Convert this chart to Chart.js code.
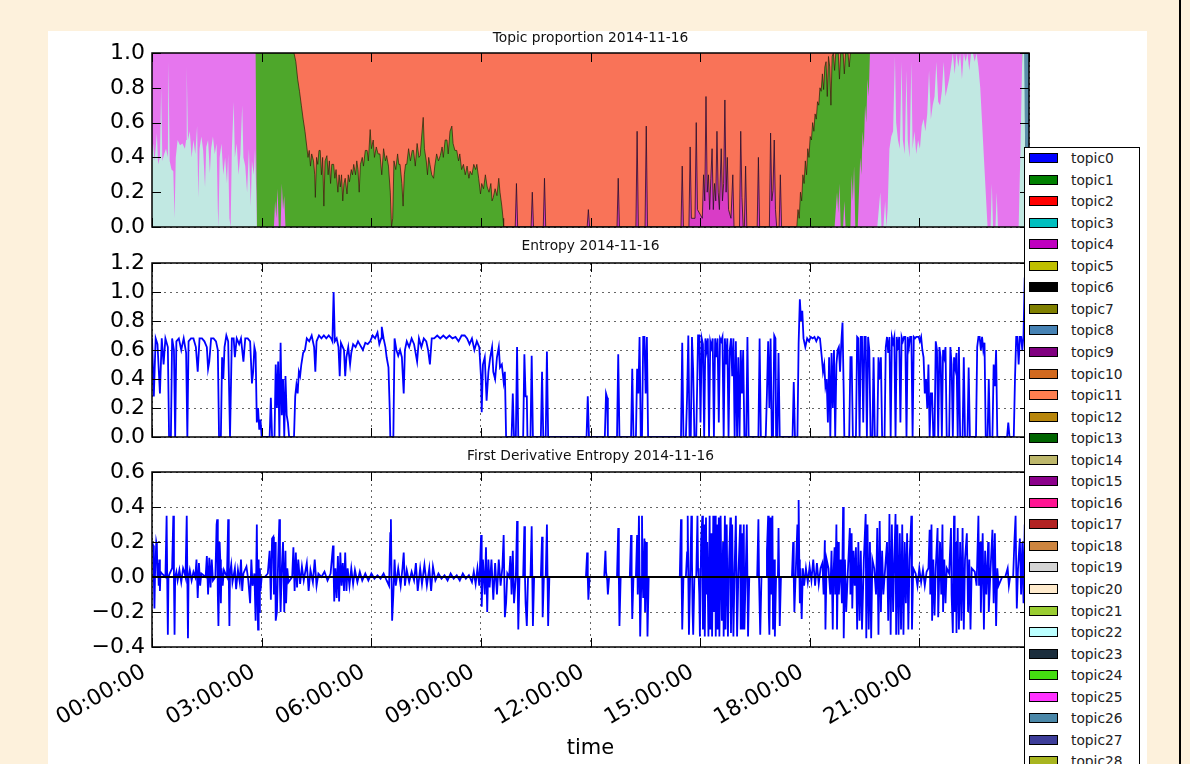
<!DOCTYPE html>
<html><head><meta charset="utf-8">
<script src="https://cdn.jsdelivr.net/npm/chart.js@4.4.1/dist/chart.umd.min.js"></script>
<style>
html,body{margin:0;padding:0;width:1190px;height:764px;overflow:hidden;background:#FDF1DC;font-family:"DejaVu Sans",sans-serif;}
#fig{position:absolute;left:48px;top:31px;width:1099px;height:733px;background:#fff;}
#rule{position:absolute;left:1179px;top:0;width:2px;height:764px;background:#000;}
canvas{position:absolute;left:0;}
#legend{position:absolute;left:1024px;top:147px;width:114px;height:660px;border:1.5px solid #000;background:#fff;z-index:5;}
.sw{position:absolute;left:4px;width:27px;height:8px;border:1px solid #000;}
.lb{position:absolute;left:46px;font-size:13.8px;color:#222;line-height:16px;white-space:nowrap;}
</style></head>
<body>
<div id="fig"></div>
<div id="rule"></div>
<canvas id="c1" width="1190" height="240" style="top:0px;width:1190px;height:240px"></canvas>
<canvas id="c2" width="1190" height="220" style="top:230px;width:1190px;height:220px"></canvas>
<canvas id="c3" width="1190" height="324" style="top:440px;width:1190px;height:324px"></canvas>
<div id="legend"></div>
<script>
// ---------- DATA (time in minutes after 00:00) ----------
const timeTickLabels = ['00:00:00','03:00:00','06:00:00','09:00:00','12:00:00','15:00:00','18:00:00','21:00:00'];
const chartTitles = ['Topic proportion 2014-11-16', 'Entropy 2014-11-16', 'First Derivative Entropy 2014-11-16'];
const topicNames = ['topic0','topic1','topic2','topic3','topic4','topic5','topic6','topic7','topic8','topic9','topic10','topic11','topic12','topic13','topic14','topic15','topic16','topic17','topic18','topic19','topic20','topic21','topic22','topic23','topic24','topic25','topic26','topic27','topic28'];
const topicColors = ['#0000FF','#008000','#FF0000','#00BFBF','#BF00BF','#BFBF00','#000000','#808000','#4682B4','#800080','#D2691E','#FF7F50','#B8860B','#006400','#BDB76B','#8B008B','#FF1493','#B22222','#CD853F','#D3D3D3','#FFEBCD','#9ACD32','#BBFFFF','#1B2D3C','#44DD11','#FF33FF','#4A87A8','#3D3D99','#A8B520'];

// visible top boundary of each stacked topic layer [minute, proportion]
const cyanTop = [[0,0.42],[2,0.48],[4,0.38],[6,0.45],[8,0.54],[10,0.36],[13,0.4],[15,0.8],[17,0.38],[20,0.42],[23,0.45],[26,0.4],[27,0.95],[29,0.38],[32,0.33],[35,0.32],[37,0.05],[39,0.4],[42,0.5],[46,0.47],[50,0.48],[54,0.45],[56,0.5],[57,0.92],[59,0.5],[62,0.55],[65,0.4],[68,0.5],[71,0.42],[74,0.58],[76,0.17],[78,0.45],[81,0.52],[84,0.44],[87,0.23],[89,0.46],[92,0.5],[95,0.31],[97,0.45],[100,0.52],[103,0.42],[106,0.48],[108,0.1],[109,0],[111,0.4],[114,0.48],[117,0.3],[120,0.4],[123,0.25],[125,0.42],[127,0.05],[129,0],[131,0.44],[134,0.72],[136,0.4],[139,0.48],[142,0.3],[145,0.42],[148,0.7],[150,0.4],[153,0.35],[156,0.2],[159,0.45],[162,0.12],[164,0.38],[167,0.3],[169,0.45],[171,0.2],[172,0],[1190,0],[1195,0.2],[1197,0],[1200,0],[1203,0.15],[1205,0],[1207,0.1],[1210,0.45],[1213,0.52],[1216,0.55],[1219,0.98],[1221,0.6],[1224,0.5],[1227,0.45],[1230,0.95],[1232,0.5],[1235,0.42],[1238,0.9],[1240,0.5],[1243,0.4],[1246,0.95],[1248,0.45],[1251,0.55],[1254,0.42],[1257,0.5],[1260,0.45],[1263,0.58],[1266,0.62],[1269,0.55],[1272,0.65],[1275,0.9],[1278,0.62],[1281,0.7],[1284,0.75],[1287,0.95],[1290,0.72],[1293,0.7],[1296,0.78],[1299,0.95],[1302,0.75],[1305,0.8],[1308,0.85],[1311,0.92],[1314,1.0],[1317,0.88],[1320,1.0],[1323,0.92],[1326,1.0],[1329,0.85],[1332,1.0],[1335,0.95],[1338,1.0],[1341,0.9],[1344,1.0],[1347,1.0],[1350,0.95],[1353,1.0],[1356,0.92],[1359,0.8],[1362,0.6],[1365,0.4],[1368,0.2],[1371,0],[1376,0],[1378,0.25],[1380,0],[1384,0],[1386,0.2],[1388,0],[1422,0],[1425,0.45],[1428,1.0],[1431,1.0],[1433,0.35],[1439,0.35]];
const violetTop = [[0,1],[170,1],[172,0],[200,0],[202,0.15],[204,0.05],[206,0.22],[208,0],[211,0],[213,0.25],[215,0.1],[217,0.18],[219,0],[1120,0],[1124,0.2],[1126,0.08],[1128,0.25],[1130,0],[1134,0],[1136,0.15],[1138,0],[1146,0],[1148,0.3],[1150,0.15],[1152,0.35],[1154,0],[1158,0],[1160,0.2],[1162,0.4],[1164,0.3],[1166,0.55],[1168,0.45],[1170,0.7],[1172,0.6],[1174,0.85],[1176,0.75],[1178,1],[1428,1],[1433,0.35],[1439,0.35]];
const greenTop = [[0,1],[233,1],[236,0.95],[239,0.85],[242,0.78],[245,0.7],[248,0.62],[251,0.55],[254,0.46],[256,0.4],[258,0.44],[260,0.35],[262,0.42],[265,0.38],[267,0.3],[268,0.17],[270,0.4],[272,0.36],[274,0.44],[276,0.44],[278,0.3],[280,0.4],[282,0.12],[284,0.38],[287,0.41],[289,0.3],[291,0.38],[293,0.25],[295,0.36],[298,0.36],[300,0.28],[302,0.33],[305,0.2],[307,0.3],[309,0.23],[311,0.3],[313,0.15],[315,0.25],[317,0.28],[320,0.19],[322,0.3],[324,0.26],[327,0.33],[329,0.3],[331,0.36],[334,0.3],[336,0.38],[338,0.33],[340,0.2],[342,0.36],[345,0.4],[347,0.35],[350,0.44],[353,0.44],[355,0.38],[358,0.56],[360,0.45],[363,0.5],[365,0.4],[368,0.46],[371,0.42],[374,0.42],[377,0.3],[380,0.45],[383,0.38],[385,0.41],[388,0.35],[391,0.2],[393,0],[395,0.05],[397,0.38],[400,0.33],[403,0.42],[405,0.36],[407,0.36],[410,0.25],[412,0.12],[414,0.3],[416,0.36],[418,0.36],[421,0.45],[424,0.38],[427,0.44],[429,0.44],[432,0.35],[435,0.48],[438,0.4],[440,0.41],[442,0.5],[445,0.63],[447,0.45],[450,0.38],[452,0.3],[454,0.4],[456,0.36],[459,0.3],[462,0.28],[464,0.35],[467,0.42],[470,0.38],[473,0.41],[476,0.46],[478,0.4],[481,0.5],[484,0.5],[486,0.42],[489,0.55],[492,0.58],[494,0.48],[497,0.44],[500,0.44],[503,0.38],[505,0.42],[508,0.33],[511,0.36],[514,0.3],[517,0.35],[520,0.28],[522,0.32],[525,0.3],[528,0.36],[531,0.33],[533,0.36],[536,0.28],[539,0.19],[541,0.25],[544,0.22],[547,0.3],[550,0.23],[553,0.2],[556,0.25],[558,0.15],[560,0.17],[563,0.22],[566,0.18],[569,0.28],[571,0.2],[574,0.12],[576,0.05],[577,0],[1058,0],[1060,0.1],[1062,0.05],[1064,0.2],[1066,0.15],[1068,0.3],[1070,0.25],[1072,0.38],[1074,0.3],[1076,0.45],[1078,0.4],[1080,0.52],[1082,0.5],[1084,0.6],[1086,0.55],[1088,0.65],[1090,0.62],[1092,0.72],[1094,0.7],[1096,0.8],[1098,0.78],[1100,0.88],[1102,0.79],[1104,0.92],[1106,0.95],[1108,0.75],[1110,0.98],[1112,0.92],[1114,0.7],[1116,0.98],[1118,1],[1120,0.9],[1122,1],[1126,1],[1128,0.85],[1130,1],[1134,1],[1136,0.88],[1138,1],[1142,1],[1144,0.92],[1146,1],[1428,1],[1433,0.35],[1439,0.35]];
const magentaTop = [[0,0],[596,0],[598,0.25],[600,0],[622,0],[624,0.2],[626,0],[642,0],[644,0.28],[646,0],[714,0],[716,0.1],[718,0],[763,0],[765,0.28],[767,0],[794,0],[796,0.55],[798,0],[809,0],[811,0.58],[813,0],[868,0],[870,0.35],[872,0],[881,0],[883,0.46],[885,0.05],[891,0.05],[893,0.6],[895,0.1],[903,0.05],[905,0.3],[907,0.15],[909,0.75],[911,0.2],[913,0.3],[915,0.1],[917,0.28],[919,0.45],[921,0.1],[923,0.25],[925,0.15],[927,0.55],[929,0.2],[931,0.1],[934,0.45],[936,0.15],[938,0.25],[940,0.73],[942,0.2],[944,0.4],[946,0.1],[950,0.05],[953,0.3],[955,0],[964,0],[966,0.55],[968,0.17],[970,0],[972,0],[974,0.35],[976,0],[993,0],[995,0.4],[997,0],[1013,0],[1015,0.54],[1017,0.15],[1019,0.21],[1021,0.5],[1023,0.1],[1025,0],[1029,0],[1031,0.3],[1033,0],[1439,0]];
const salmonTop = [[0,1],[1428,1],[1433,0.35],[1439,0.35]];
const steelTop = [[0,1],[1439,1]];

const entropySeries = [[0,0.68],[3,0.28],[6,0.68],[9,0.64],[13,0.30],[16,0.68],[19,0.5],[22,0.68],[26,0.62],[28,0],[31,0],[33,0.68],[36,0.6],[38,0],[40,0.66],[44,0.68],[48,0.6],[52,0.68],[56,0.58],[58,0],[60,0.66],[64,0.68],[68,0.68],[72,0.62],[75,0.45],[78,0.68],[82,0.68],[86,0.66],[90,0.62],[92,0.47],[94,0.52],[97,0.68],[101,0.68],[105,0.66],[108,0.6],[110,0],[113,0],[115,0.55],[117,0.4],[119,0.62],[122,0.7],[125,0.66],[128,0],[131,0.68],[134,0.68],[136,0.55],[139,0.68],[143,0.64],[146,0.68],[150,0.52],[153,0.68],[157,0.68],[161,0.66],[164,0.37],[166,0.45],[168,0.62],[170,0.58],[172,0.1],[174,0.2],[176,0.05],[178,0.12],[180,0],[193,0],[195,0.27],[197,0],[201,0],[203,0.5],[205,0.2],[207,0.52],[209,0],[211,0.65],[213,0.15],[215,0.4],[217,0],[219,0.42],[221,0.15],[223,0.1],[225,0],[233,0],[235,0.28],[237,0.36],[239,0.3],[241,0.45],[243,0.42],[245,0.5],[248,0.58],[251,0.6],[254,0.68],[258,0.66],[262,0.7],[266,0.62],[268,0.45],[270,0.66],[274,0.7],[278,0.68],[282,0.7],[286,0.68],[290,0.7],[294,0.68],[296,0.66],[298,1.0],[300,0.66],[303,0.68],[306,0.62],[308,0.42],[310,0.65],[313,0.62],[315,0.6],[317,0.42],[319,0.55],[322,0.62],[325,0.5],[327,0.58],[330,0.64],[334,0.62],[338,0.66],[342,0.63],[346,0.6],[350,0.65],[354,0.64],[358,0.66],[362,0.7],[366,0.68],[370,0.72],[373,0.64],[376,0.68],[377,0.76],[380,0.68],[383,0.62],[385,0.55],[388,0.48],[390,0.2],[391,0],[396,0],[398,0.68],[401,0.6],[404,0.56],[407,0.6],[410,0.55],[413,0.3],[415,0.6],[418,0.66],[422,0.62],[426,0.68],[430,0.64],[435,0.52],[438,0.68],[442,0.62],[446,0.68],[450,0.66],[453,0.6],[456,0.5],[459,0.68],[463,0.68],[468,0.7],[473,0.68],[478,0.7],[483,0.68],[488,0.7],[493,0.68],[498,0.69],[503,0.66],[508,0.7],[513,0.7],[517,0.68],[521,0.64],[525,0.68],[529,0.6],[533,0.66],[537,0.62],[540,0.4],[541,0.17],[543,0.5],[546,0.55],[549,0.25],[552,0.45],[555,0.55],[558,0.62],[560,0.45],[563,0.4],[566,0.55],[569,0.62],[571,0.48],[574,0.5],[577,0.38],[579,0.45],[581,0],[590,0],[592,0.3],[594,0],[597,0],[599,0.62],[601,0],[609,0],[611,0.57],[613,0.28],[615,0.28],[616,0],[621,0],[623,0.56],[625,0],[638,0],[640,0.45],[642,0],[646,0],[648,0.59],[650,0],[713,0],[715,0.28],[717,0],[743,0],[745,0.3],[747,0.27],[748,0],[763,0],[765,0.57],[767,0],[786,0],[788,0.47],[790,0],[794,0],[796,0.47],[798,0.3],[800,0.69],[802,0],[804,0],[806,0.69],[808,0.69],[810,0.3],[812,0.69],[814,0],[868,0],[870,0.65],[872,0],[876,0],[878,0.28],[880,0.7],[882,0],[884,0],[886,0.69],[888,0.45],[890,0],[893,0],[896,0.7],[898,0.7],[900,0.1],[902,0.68],[904,0.64],[906,0],[908,0.68],[910,0.6],[912,0.68],[914,0],[916,0.66],[918,0.62],[920,0.68],[922,0],[924,0.68],[926,0.55],[928,0.68],[930,0.1],[932,0.68],[934,0.66],[936,0.69],[938,0],[940,0.68],[942,0.5],[944,0.68],[946,0],[948,0.6],[950,0.68],[952,0.42],[954,0.68],[956,0],[958,0.66],[960,0],[962,0.55],[964,0],[966,0.6],[968,0.3],[970,0.6],[972,0],[975,0],[977,0.69],[979,0],[995,0],[997,0.68],[999,0],[1007,0],[1009,0.3],[1011,0.66],[1013,0.2],[1015,0.68],[1017,0],[1019,0],[1021,0.7],[1023,0.68],[1024,0],[1026,0],[1028,0.58],[1030,0],[1051,0],[1053,0.38],[1055,0],[1059,0],[1061,0.65],[1063,0.95],[1065,0.8],[1067,0.87],[1069,0.68],[1072,0.62],[1075,0.68],[1078,0.66],[1081,0.69],[1084,0.68],[1087,0.69],[1090,0.66],[1093,0.69],[1096,0.68],[1099,0.55],[1101,0.45],[1103,0.5],[1105,0.35],[1107,0.4],[1109,0.1],[1111,0.55],[1113,0],[1115,0.58],[1117,0.2],[1119,0.6],[1121,0],[1123,0.5],[1125,0.6],[1127,0.62],[1129,0.45],[1131,0.65],[1133,0.79],[1135,0.3],[1136,0],[1144,0],[1146,0.55],[1148,0.55],[1150,0],[1155,0],[1157,0.69],[1159,0.68],[1161,0],[1163,0.69],[1165,0.69],[1167,0.1],[1169,0.69],[1171,0.69],[1173,0],[1175,0.69],[1177,0.6],[1179,0],[1182,0],[1184,0.55],[1186,0],[1190,0],[1192,0.55],[1194,0.4],[1196,0.55],[1198,0],[1202,0],[1204,0.62],[1206,0.69],[1208,0.58],[1210,0.69],[1212,0],[1214,0.69],[1216,0.65],[1218,0.69],[1220,0],[1222,0.69],[1224,0.6],[1226,0.69],[1228,0.1],[1230,0.69],[1232,0.66],[1234,0.69],[1236,0.69],[1238,0],[1240,0.69],[1242,0.62],[1244,0.69],[1246,0.69],[1248,0],[1250,0.69],[1252,0.68],[1254,0.69],[1256,0.69],[1258,0.69],[1260,0.66],[1262,0.69],[1264,0.6],[1266,0.55],[1268,0.3],[1270,0.4],[1272,0.2],[1274,0.5],[1276,0],[1278,0.3],[1280,0.3],[1282,0],[1284,0],[1286,0.66],[1288,0.6],[1290,0],[1292,0.62],[1294,0.55],[1296,0],[1298,0.6],[1300,0.55],[1302,0.62],[1304,0],[1308,0],[1310,0.62],[1312,0.5],[1314,0],[1316,0.55],[1318,0.48],[1320,0.58],[1322,0],[1324,0.62],[1326,0],[1330,0],[1332,0.55],[1334,0],[1338,0],[1340,0.48],[1342,0],[1352,0],[1354,0.62],[1356,0.69],[1358,0.69],[1360,0.6],[1362,0.69],[1364,0.6],[1366,0.65],[1368,0],[1371,0],[1373,0.4],[1375,0],[1379,0],[1381,0.5],[1383,0.35],[1385,0.6],[1387,0],[1403,0],[1405,0.1],[1407,0],[1414,0],[1416,0.4],[1418,0.69],[1420,0.69],[1422,0.5],[1424,0.69],[1426,0.69],[1428,0.6],[1430,0.7],[1432,1.1],[1434,0.6],[1436,0.65],[1439,0.66]];

const derivativeSeries = [[0,0.2],[2,0.18],[3,0],[4,-0.18],[5,0.02],[7,0.2],[8,0.18],[9,0],[10,0.08],[11,-0.05],[12,0.1],[13,-0.08],[14,0.03],[16,0.02],[22,0],[24,0.35],[25,-0.02],[26,-0.33],[27,0],[29,0.02],[33,0.05],[35,0.35],[36,0],[37,-0.33],[38,0],[40,0.03],[42,-0.02],[45,0.04],[48,-0.03],[51,0.05],[53,0.03],[55,0],[57,0.35],[58,0],[59,-0.35],[60,0],[62,0.04],[65,-0.02],[68,0.03],[71,0],[73,0.1],[75,-0.12],[77,0.08],[79,-0.05],[81,0.02],[88,0],[90,0.12],[92,-0.1],[94,0.11],[96,-0.06],[98,0.1],[100,-0.02],[104,0],[106,0.3],[107,0.33],[108,-0.1],[109,-0.28],[111,0.2],[112,0.1],[113,-0.15],[114,0.05],[116,-0.05],[118,0.04],[123,0],[125,0.33],[126,0],[127,-0.28],[128,0.02],[130,0.07],[132,-0.03],[136,0.05],[138,-0.07],[141,0.04],[144,-0.03],[146,0.1],[148,-0.08],[150,0.02],[155,0.06],[158,-0.02],[161,-0.15],[163,0.1],[165,-0.05],[168,0.02],[170,-0.25],[172,0.3],[173,-0.1],[174,-0.3],[175,0.1],[176,-0.2],[177,0.05],[178,-0.08],[180,0],[185,0],[190,0.02],[193,0.15],[195,-0.13],[197,0.22],[199,0.23],[200,-0.1],[202,0.2],[203,-0.25],[205,-0.2],[207,0.1],[209,0.33],[210,-0.05],[211,-0.2],[213,0.05],[215,0.2],[217,-0.2],[219,0.15],[220,-0.15],[222,0.05],[224,-0.03],[230,0],[232,0.17],[234,-0.08],[236,0.14],[238,-0.06],[240,0.1],[243,-0.04],[246,0.06],[249,-0.02],[254,0.08],[257,-0.08],[260,0.04],[264,-0.03],[267,0.1],[270,-0.05],[273,0.02],[278,0],[283,0.03],[288,-0.02],[293,0.02],[297,0.18],[298,0.03],[299,-0.14],[301,0.05],[303,-0.12],[305,0.12],[307,-0.14],[309,0.14],[311,-0.05],[313,0.08],[315,-0.08],[317,0.14],[319,-0.08],[321,0.05],[324,-0.05],[327,0.05],[330,-0.04],[333,0.04],[337,-0.03],[341,0.03],[345,-0.02],[350,0.02],[355,-0.02],[360,0.02],[365,-0.01],[370,0.01],[375,-0.01],[380,0.02],[385,-0.02],[389,-0.05],[391,0.25],[392,0.33],[393,0],[394,-0.25],[396,-0.1],[398,0.1],[400,-0.05],[404,0.05],[408,-0.05],[411,0.05],[413,0.14],[415,-0.05],[418,0.04],[422,-0.03],[426,0.03],[430,-0.02],[433,0.08],[436,-0.08],[440,0.05],[443,-0.04],[447,0.07],[451,-0.05],[455,0.05],[458,-0.08],[461,0.06],[465,-0.02],[470,0.02],[475,-0.01],[480,0.01],[485,-0.02],[490,0.02],[495,-0.01],[500,0.01],[505,-0.02],[510,0.02],[515,-0.01],[520,0.01],[525,-0.03],[528,0.03],[531,-0.04],[534,0.05],[537,-0.05],[540,0.24],[541,-0.17],[543,0.1],[546,-0.1],[548,0.17],[550,-0.2],[552,0.1],[554,-0.06],[557,0.1],[560,-0.13],[563,0.08],[566,-0.1],[569,0.1],[572,-0.05],[575,0.06],[577,0.24],[579,-0.23],[581,-0.15],[583,0.02],[586,0],[588,0.12],[590,-0.1],[592,0.15],[594,-0.15],[597,0],[599,0.32],[600,0],[601,-0.3],[603,0],[609,0],[611,0.29],[612,0],[613,-0.15],[615,-0.28],[617,0],[621,0],[623,0.29],[624,0],[625,-0.28],[627,0],[638,0],[640,0.23],[641,-0.23],[643,0],[646,0],[648,0.3],[649,0],[650,-0.28],[652,0],[712,0],[714,0.14],[715,0],[716,-0.13],[718,0],[742,0],[744,0.15],[745,0.03],[747,-0.02],[748,-0.1],[750,0],[763,0],[765,0.28],[766,0],[767,-0.28],[769,0],[784,0],[786,0.24],[787,0],[788,-0.24],[790,0],[794,0],[796,0.24],[797,-0.1],[799,0.35],[800,0],[801,-0.34],[803,0],[804,0.35],[805,0],[806,-0.12],[808,0.22],[809,-0.2],[811,0.2],[812,0],[813,-0.34],[815,0],[866,0],[868,0.33],[869,0],[870,-0.3],[872,0],[876,0],[878,0.14],[879,0.35],[880,0],[881,-0.33],[883,0],[885,0.35],[886,0.1],[887,-0.2],[888,-0.33],[890,0],[893,0],[895,0.35],[896,0.05],[897,0],[898,-0.1],[899,-0.34],[901,0.2],[903,0.35],[904,-0.3],[906,0.3],[907,-0.34],[909,0.34],[910,-0.1],[911,0.2],[913,-0.34],[915,0.35],[916,-0.3],[918,0.25],[919,-0.34],[921,0.35],[922,-0.2],[924,0.35],[925,-0.34],[927,0.3],[928,-0.3],[930,0.34],[931,-0.34],[933,0.35],[935,-0.25],[937,0.2],[938,-0.34],[940,0.35],[941,-0.3],[943,0.3],[945,-0.34],[947,0.1],[949,0.34],[950,-0.32],[952,0.3],[954,-0.34],[956,0.05],[958,0.35],[960,-0.34],[962,0],[965,0.3],[966,-0.3],[968,0.25],[969,-0.3],[971,0.3],[972,-0.3],[974,0],[976,0.3],[978,-0.34],[980,0],[993,0],[995,0.33],[996,0],[998,-0.33],[1000,0],[1008,0],[1009,0.15],[1011,0.35],[1012,-0.2],[1013,-0.33],[1015,0.34],[1016,-0.1],[1018,0.35],[1019,-0.3],[1021,0.1],[1022,-0.34],[1024,0],[1027,0],[1028,0.28],[1029,0],[1030,-0.28],[1032,0],[1050,0],[1052,0.2],[1053,0],[1054,-0.2],[1056,0],[1059,0.3],[1060,0],[1061,0.44],[1062,0.1],[1063,-0.15],[1064,0.05],[1066,-0.24],[1068,0.05],[1070,-0.05],[1073,0.05],[1076,-0.03],[1079,0.06],[1082,-0.02],[1085,0.1],[1088,-0.05],[1091,0.08],[1094,-0.04],[1097,0.05],[1100,0.08],[1102,-0.1],[1104,0.21],[1105,-0.3],[1107,0.1],[1110,0.05],[1113,-0.1],[1115,0.15],[1117,-0.3],[1118,0],[1120,0.17],[1121,-0.1],[1123,0.3],[1124,-0.3],[1126,0.2],[1127,-0.1],[1130,0.1],[1132,-0.15],[1134,0.4],[1135,-0.35],[1137,0.1],[1139,-0.2],[1142,0.05],[1145,0.28],[1146,-0.1],[1148,0.25],[1149,-0.18],[1151,0.15],[1153,-0.05],[1155,0.17],[1157,-0.3],[1159,0.2],[1161,-0.25],[1163,0.15],[1165,-0.3],[1168,0.1],[1171,0.36],[1172,-0.35],[1174,0.3],[1176,-0.3],[1178,0.2],[1180,-0.35],[1182,0.1],[1185,0.05],[1188,-0.1],[1190,0.28],[1192,-0.33],[1194,0.32],[1196,-0.2],[1198,0.15],[1200,-0.1],[1203,0.05],[1206,0.2],[1208,-0.25],[1210,0.36],[1212,-0.33],[1214,0.3],[1216,-0.2],[1218,0.1],[1220,0.36],[1221,-0.33],[1223,0.3],[1225,-0.33],[1227,0.25],[1229,-0.3],[1231,0.3],[1233,-0.33],[1235,0.2],[1237,-0.15],[1239,0.25],[1241,-0.3],[1243,0.1],[1246,0.35],[1247,-0.3],[1249,0.05],[1253,0.02],[1256,-0.05],[1259,0.05],[1262,-0.03],[1265,0.04],[1268,-0.05],[1271,0.03],[1274,0.05],[1276,0.27],[1277,-0.1],[1279,0.3],[1280,-0.25],[1282,0.1],[1284,-0.22],[1286,0.05],[1289,0.28],[1290,-0.23],[1293,0.2],[1295,-0.1],[1297,0.3],[1298,-0.2],[1300,0.1],[1302,-0.15],[1304,0.05],[1308,0.02],[1311,0.28],[1312,-0.1],[1314,-0.32],[1316,0.35],[1317,-0.2],[1319,0.2],[1320,-0.32],[1322,0.28],[1324,-0.3],[1326,0.2],[1328,-0.25],[1330,0.28],[1332,-0.3],[1334,0.1],[1337,0.25],[1339,-0.2],[1341,0.1],[1343,-0.3],[1345,0.05],[1350,0.03],[1353,-0.05],[1356,0.35],[1357,-0.05],[1359,0.2],[1360,-0.2],[1363,0.25],[1365,-0.3],[1367,0.15],[1369,-0.1],[1372,0.2],[1373,-0.2],[1376,0.05],[1379,0.27],[1381,-0.15],[1383,0.25],[1385,-0.28],[1387,0.05],[1389,-0.05],[1395,0],[1400,0],[1404,0.05],[1406,-0.05],[1408,0],[1413,0],[1415,0.2],[1417,0.35],[1418,0.05],[1419,-0.18],[1421,0.05],[1424,0.22],[1426,-0.1],[1428,0.2],[1430,-0.15],[1432,0.3],[1434,-0.2],[1436,-0.33],[1438,0.1],[1439,0]];
const derivativeBaseline = [[0,0],[1439,0]];

// ---------- CHARTS ----------
Chart.defaults.font.family = '"DejaVu Sans", sans-serif';
Chart.defaults.color = '#000';
const pts = arr => arr.map(p => ({x: p[0], y: p[1]}));
const fmtTime = v => timeTickLabels[Math.round(v / 180)] || '';
const fmtNum = v => (v < -1e-9 ? '\u2212' : '') + Math.abs(v).toFixed(1);

// frame, inward ticks and a title centred on the plot area
const framePlugin = {
  id: 'frame',
  afterDraw(chart, args, opts) {
    const {ctx, chartArea: a, scales: {x, y}} = chart;
    const L = 9;
    ctx.save();
    ctx.strokeStyle = '#000';
    ctx.lineWidth = 1;
    ctx.beginPath();
    x.ticks.forEach(t => {
      const p = Math.round(x.getPixelForValue(t.value)) + 0.5;
      ctx.moveTo(p, a.top); ctx.lineTo(p, a.top + L);
      ctx.moveTo(p, a.bottom); ctx.lineTo(p, a.bottom - L);
    });
    y.ticks.forEach(t => {
      const p = Math.round(y.getPixelForValue(t.value)) + 0.5;
      ctx.moveTo(a.left, p); ctx.lineTo(a.left + L, p);
      ctx.moveTo(a.right, p); ctx.lineTo(a.right - L, p);
    });
    ctx.stroke();
    ctx.lineWidth = 1.5;
    ctx.strokeRect(a.left, a.top, a.right - a.left, a.bottom - a.top);
    if (opts && opts.text) {
      ctx.fillStyle = '#111';
      ctx.font = '13.8px "DejaVu Sans", sans-serif';
      ctx.textAlign = 'center';
      ctx.textBaseline = 'middle';
      ctx.fillText(opts.text, (a.left + a.right) / 2, a.top - opts.gap);
    }
    ctx.restore();
  }
};

function xScale(showLabels, z) {
  return {
    type: 'linear', min: 0, max: 1439, z: z,
    ticks: {display: showLabels, stepSize: 180, includeBounds: false, autoSkip: false,
            maxRotation: 30, minRotation: 30, padding: 12, labelOffset: -8, font: {size: 22}, color: '#000',
            callback: v => fmtTime(v)},
    grid: {color: 'rgba(0,0,0,0.6)', lineWidth: 1, drawTicks: false},
    border: {display: false, dash: [2, 4]},
    title: {display: showLabels, text: 'time', font: {size: 21}, color: '#000', padding: {top: 0, bottom: 3}},
    afterFit: s => { s.height = showLabels ? 117 : 0; s.paddingLeft = 0; s.paddingRight = 0; }
  };
}
function yScale(min, max, z) {
  return {
    min: min, max: max, z: z,
    ticks: {stepSize: 0.2, autoSkip: false, font: {size: 22}, color: '#000', padding: 7, callback: v => fmtNum(v)},
    grid: {color: 'rgba(0,0,0,0.6)', lineWidth: 1, drawTicks: false},
    border: {display: false, dash: [2, 4]},
    afterFit: s => { s.width = 152; s.paddingTop = 0; s.paddingBottom = 0; }
  };
}
const base = {
  responsive: false, animation: false, events: [], devicePixelRatio: 1,
  elements: {point: {radius: 0}, line: {tension: 0}},
};
const pluginOpts = (k, gap) => ({legend: {display: false}, tooltip: {enabled: false}, title: {display: false},
  frame: {text: chartTitles[k], gap: gap}});

const area = (data, color, edge) => ({
  data: pts(data), backgroundColor: color, fill: 'origin',
  borderColor: edge || 'rgba(0,0,0,0)', borderWidth: edge ? 1 : 0
});

new Chart(document.getElementById('c1'), {
  type: 'line',
  data: {datasets: [
    area(cyanTop, '#C1E8E2'),
    area(violetTop, '#E676EE'),
    area(greenTop, '#4EA72B', 'rgba(45,30,10,0.7)'),
    area(magentaTop, '#D93CC6', 'rgba(40,15,40,0.8)'),
    area(salmonTop, '#F97358'),
    area(steelTop, '#5A8DAA')
  ]},
  options: Object.assign({}, base, {
    layout: {padding: {top: 53, left: 0, right: 161, bottom: 13}},
    plugins: pluginOpts(0, 15),
    scales: {x: xScale(false, 1), y: yScale(0, 1, 1)}
  }),
  plugins: [framePlugin]
});

new Chart(document.getElementById('c2'), {
  type: 'line',
  data: {datasets: [{data: pts(entropySeries), borderColor: '#0000FF', borderWidth: 1.8, fill: false}]},
  options: Object.assign({}, base, {
    layout: {padding: {top: 33, left: 0, right: 161, bottom: 13}},
    plugins: pluginOpts(1, 17),
    scales: {x: xScale(false, 0), y: yScale(0, 1.2, 0)}
  }),
  plugins: [framePlugin]
});

new Chart(document.getElementById('c3'), {
  type: 'line',
  data: {datasets: [
    {data: pts(derivativeBaseline), borderColor: '#000', borderWidth: 2, fill: false},
    {data: pts(derivativeSeries), borderColor: '#0000FF', borderWidth: 1.8, fill: false}
  ]},
  options: Object.assign({}, base, {
    layout: {padding: {top: 32, left: 0, right: 161, bottom: 0}},
    plugins: pluginOpts(2, 16),
    scales: {x: xScale(true, 0), y: yScale(-0.4, 0.6, 0)}
  }),
  plugins: [framePlugin]
});

// ---------- LEGEND ----------
const leg = document.getElementById('legend');
topicNames.forEach((name, k) => {
  const cy = 10 + 21.55 * k;
  const sw = document.createElement('div');
  sw.className = 'sw'; sw.style.top = (cy - 5) + 'px'; sw.style.background = topicColors[k];
  const lb = document.createElement('div');
  lb.className = 'lb'; lb.style.top = (cy - 8) + 'px'; lb.textContent = name;
  leg.appendChild(sw); leg.appendChild(lb);
});
</script>
</body></html>
